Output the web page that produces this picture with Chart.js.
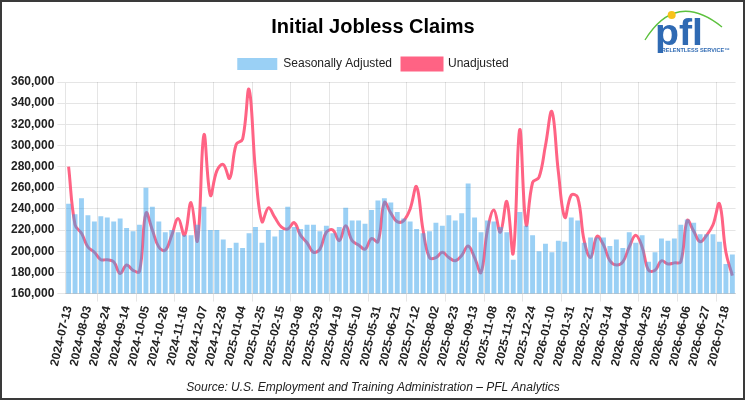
<!DOCTYPE html>
<html>
<head>
<meta charset="utf-8">
<title>Initial Jobless Claims</title>
<script src="https://cdn.jsdelivr.net/npm/chart.js@4.4.1/dist/chart.umd.min.js"></script>
<style>
    body { margin: 0; background: #fff; }
    #wrap {
        position: relative;
        width: 745px;
        height: 400px;
        border: 2px solid #3a3a3a;
        box-sizing: border-box;
        background: #fff;
    }
    #chartBox { position: absolute; left: 0; top: 0; right: 0; bottom: 0; }
    #logo { position: absolute; left: 638px; top: 2px; width: 100px; height: 58px; }
</style>
</head>
<body>
<div id="wrap">
    <div id="chartBox"><canvas id="claimsChart"></canvas></div>
    <svg id="logo" viewBox="0 0 100 58" xmlns="http://www.w3.org/2000/svg">
        <path d="M 5 36 Q 36 -14 82 23" fill="none" stroke="#5cc13d" stroke-width="1.3"/>
        <circle cx="31.7" cy="11" r="4" fill="#f7c21b"/>
        <text x="15" y="41" font-family="Liberation Sans, Arial, sans-serif" font-weight="bold"
              font-size="37" fill="#2f6ab3" textLength="48" lengthAdjust="spacingAndGlyphs">pfl</text>
        <text x="21.7" y="47.7" font-family="Liberation Sans, Arial, sans-serif" font-weight="bold"
              font-size="5.5" fill="#2f6ab3" textLength="68" lengthAdjust="spacingAndGlyphs">RELENTLESS SERVICE™</text>
    </svg>
</div>
<script>
// weekly report dates (labels every third week are shown on the axis)
const weeks = [
    '2024-07-13', '2024-07-20', '2024-07-27', '2024-08-03', '2024-08-10', '2024-08-17',
    '2024-08-24', '2024-08-31', '2024-09-07', '2024-09-14', '2024-09-21', '2024-09-28',
    '2024-10-05', '2024-10-12', '2024-10-19', '2024-10-26', '2024-11-02', '2024-11-09',
    '2024-11-16', '2024-11-23', '2024-11-30', '2024-12-07', '2024-12-14', '2024-12-21',
    '2024-12-28', '2024-12-30', '2025-01-02', '2025-01-04', '2025-01-11', '2025-01-18',
    '2025-01-25', '2025-02-01', '2025-02-08', '2025-02-15', '2025-02-22', '2025-03-01',
    '2025-03-08', '2025-03-15', '2025-03-22', '2025-03-29', '2025-04-05', '2025-04-12',
    '2025-04-19', '2025-04-26', '2025-05-03', '2025-05-10', '2025-05-17', '2025-05-24',
    '2025-05-31', '2025-06-07', '2025-06-14', '2025-06-21', '2025-06-28', '2025-07-05',
    '2025-07-12', '2025-07-19', '2025-07-26', '2025-08-02', '2025-08-09', '2025-08-16',
    '2025-08-23', '2025-08-30', '2025-09-06', '2025-09-13', '2025-09-20', '2025-09-27',
    '2025-11-08', '2025-11-15', '2025-11-22', '2025-11-29', '2025-12-06', '2025-12-13',
    '2025-12-24', '2025-12-27', '2026-01-03', '2026-01-10', '2026-01-17', '2026-01-24',
    '2026-01-31', '2026-02-07', '2026-02-14', '2026-02-21', '2026-02-28', '2026-03-07',
    '2026-03-14', '2026-03-21', '2026-03-28', '2026-04-04', '2026-04-11', '2026-04-18',
    '2026-04-25', '2026-05-02', '2026-05-09', '2026-05-16', '2026-05-23', '2026-05-30',
    '2026-06-06', '2026-06-13', '2026-06-20', '2026-06-27', '2026-07-04', '2026-07-11',
    '2026-07-18', '2026-07-25'
];

const seasonallyAdjusted = [
    245000, 235000, 250000, 234000, 228000, 233000, 232000, 228000, 231000, 222000,
    219000, 225000, 260000, 242000, 228000, 218000, 220000, 218000, 215000, 215000,
    225000, 242000, 220000, 220000, 211000, 203000, 208000, 203000, 217000, 223000,
    208000, 220000, 214000, 220000, 242000, 223000, 221000, 225000, 225000, 219000,
    224000, 217000, 223000, 241000, 229000, 229000, 226000, 239000, 248000, 250000,
    246000, 237000, 231000, 228000, 221000, 217000, 219000, 227000, 224000, 234000,
    229000, 236000, 264000, 232000, 218000, 229000, 228000, 223000, 218000, 192000,
    237000, 224000, 215000, 200000, 207000, 199000, 210000, 209000, 232000, 229000,
    208000, 213000, 213000, 213000, 205000, 211000, 203000, 218000, 208000, 215000,
    190000, 199000, 212000, 210000, 212000, 225000, 230000, 227000, 216000, 216000,
    216000, 209000, 188000, 197000
];

const unadjusted = [
    280000, 225000, 217000, 204000, 199000, 192000, 192000, 190000, 179000, 187000,
    182000, 181000, 236000, 220000, 204000, 201000, 215000, 231000, 215000, 246000,
    210000, 310000, 253000, 276000, 282000, 269000, 301000, 306000, 353000, 276000,
    228000, 241000, 232000, 223000, 221000, 227000, 215000, 208000, 199000, 202000,
    218000, 220000, 210000, 224000, 210000, 206000, 202000, 212000, 209000, 246000,
    236000, 228000, 229000, 240000, 261000, 220000, 194000, 194000, 199000, 194000,
    191000, 196000, 205000, 194000, 180000, 220000, 239000, 218000, 247000, 198000,
    315000, 225000, 265000, 270000, 300000, 332000, 275000, 232000, 253000, 251000,
    210000, 194000, 214000, 206000, 191000, 187000, 190000, 204000, 215000, 204000,
    182000, 182000, 191000, 188000, 189000, 190000, 229000, 219000, 209000, 215000,
    225000, 245000, 199000, 177000
];

const yMin = 160000;
const yMax = 360000;
const yStep = 20000;

Chart.defaults.font.family = "'Liberation Sans', Arial, sans-serif";
Chart.defaults.font.size = 12;
Chart.defaults.color = '#222';

// a little extra room between the legend and the plot
const legendGap = {
    id: 'legendGap',
    beforeInit(chart) {
        const fit = chart.legend.fit;
        chart.legend.fit = function() {
            fit.bind(chart.legend)();
            this.height += 2;
        };
    }
};

function renderClaimsChart() {
    const ctx = document.getElementById('claimsChart').getContext('2d');

    new Chart(ctx, {
        type: 'bar',
        data: {
            labels: weeks,
            datasets: [
                {
                    label: 'Seasonally Adjusted',
                    data: seasonallyAdjusted,
                    backgroundColor: 'rgba(54, 162, 235, 0.5)',
                    borderWidth: 0,
                    categoryPercentage: 0.8,
                    barPercentage: 0.95
                },
                {
                    type: 'line',
                    label: 'Unadjusted',
                    data: unadjusted,
                    borderColor: 'rgb(255, 99, 132)',
                    backgroundColor: 'rgb(255, 99, 132)',
                    borderWidth: 3,
                    pointRadius: 0,
                    fill: false,
                    tension: 0.4
                }
            ]
        },
        options: {
            responsive: true,
            maintainAspectRatio: false,
            animation: false,
            layout: {
                padding: { left: 6, right: 5, top: 0, bottom: 0 }
            },
            plugins: {
                title: {
                    display: true,
                    text: 'Initial Jobless Claims',
                    color: '#000',
                    font: { size: 20, weight: 'bold' },
                    padding: { top: 13, bottom: 9 }
                },
                subtitle: {
                    display: true,
                    position: 'bottom',
                    text: 'Source: U.S. Employment and Training Administration \u2013 PFL Analytics',
                    color: '#222',
                    font: { size: 12, style: 'italic' },
                    padding: { top: 10, bottom: 3 }
                },
                legend: {
                    labels: { boxWidth: 40, boxHeight: 12, color: '#222' }
                },
                tooltip: { enabled: false }
            },
            scales: {
                x: {
                    ticks: {
                        autoSkip: true,
                        maxTicksLimit: 35,
                        maxRotation: 90,
                        minRotation: 0,
                        color: '#222',
                        font: { weight: 'bold' }
                    }
                },
                y: {
                    min: yMin,
                    max: yMax,
                    ticks: {
                        stepSize: yStep,
                        color: '#222',
                        font: { weight: 'bold' },
                        callback: function(value) {
                            return value.toLocaleString('en-US');
                        }
                    }
                }
            }
        },
        plugins: [legendGap]
    });
}

renderClaimsChart();
</script>
</body>
</html>
